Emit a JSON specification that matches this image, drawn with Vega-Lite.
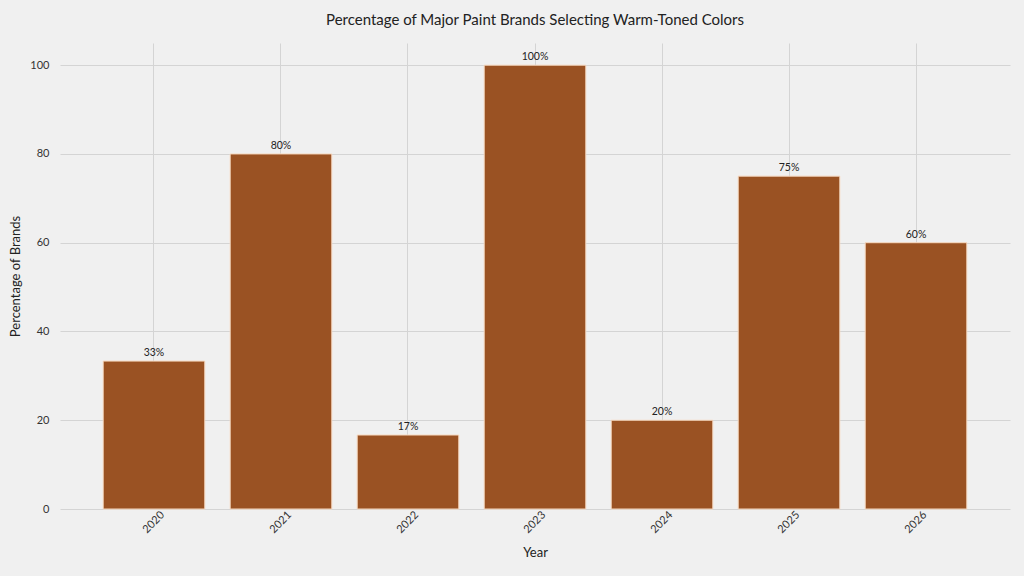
{
  "$schema": "https://vega.github.io/schema/vega-lite/v6.json",
  "width": 950,
  "height": 466,
  "autosize": {"type": "none"},
  "padding": {"left": 60, "top": 43, "right": 14, "bottom": 67},
  "background": "#f0f0f0",
  "title": {
    "text": "Percentage of Major Paint Brands Selecting Warm-Toned Colors",
    "fontSize": 15,
    "font": "Lato",
    "fontWeight": "normal",
    "color": "#222222",
    "offset": 15,
    "anchor": "middle"
  },
  "data": {
    "values": [
      {"year": "2020", "pct": 33.33, "label": "33%"},
      {"year": "2021", "pct": 80, "label": "80%"},
      {"year": "2022", "pct": 16.67, "label": "17%"},
      {"year": "2023", "pct": 100, "label": "100%"},
      {"year": "2024", "pct": 20, "label": "20%"},
      {"year": "2025", "pct": 75, "label": "75%"},
      {"year": "2026", "pct": 60, "label": "60%"}
    ]
  },
  "encoding": {
    "x": {
      "field": "year",
      "type": "ordinal",
      "scale": {"paddingInner": 0.2, "paddingOuter": 0.34},
      "axis": {
        "title": "Year",
        "labelAngle": -45,
        "labelAlign": "center",
        "labelBaseline": "middle",
        "labelPadding": 13,
        "ticks": false,
        "domain": false,
        "grid": true,
        "gridColor": "#d4d4d4",
        "titlePadding": 12
      }
    },
    "y": {
      "field": "pct",
      "type": "quantitative",
      "scale": {"domain": [0, 105], "nice": false},
      "axis": {
        "title": "Percentage of Brands",
        "values": [0, 20, 40, 60, 80, 100],
        "ticks": false,
        "domain": false,
        "grid": true,
        "gridColor": "#d4d4d4",
        "labelPadding": 11,
        "titlePadding": 7
      }
    }
  },
  "layer": [
    {
      "mark": {"type": "bar", "color": "#9a5223", "stroke": "#f7d9c0", "strokeWidth": 1}
    },
    {
      "mark": {"type": "text", "baseline": "bottom", "dy": -3, "fontSize": 10.5, "font": "Lato", "color": "#222222"},
      "encoding": {"text": {"field": "label"}}
    }
  ],
  "config": {
    "view": {"stroke": null},
    "axis": {
      "labelFont": "Lato",
      "titleFont": "Lato",
      "labelFontSize": 11,
      "titleFontSize": 13,
      "titleFontWeight": "normal",
      "labelColor": "#333333",
      "titleColor": "#222222"
    }
  }
}
